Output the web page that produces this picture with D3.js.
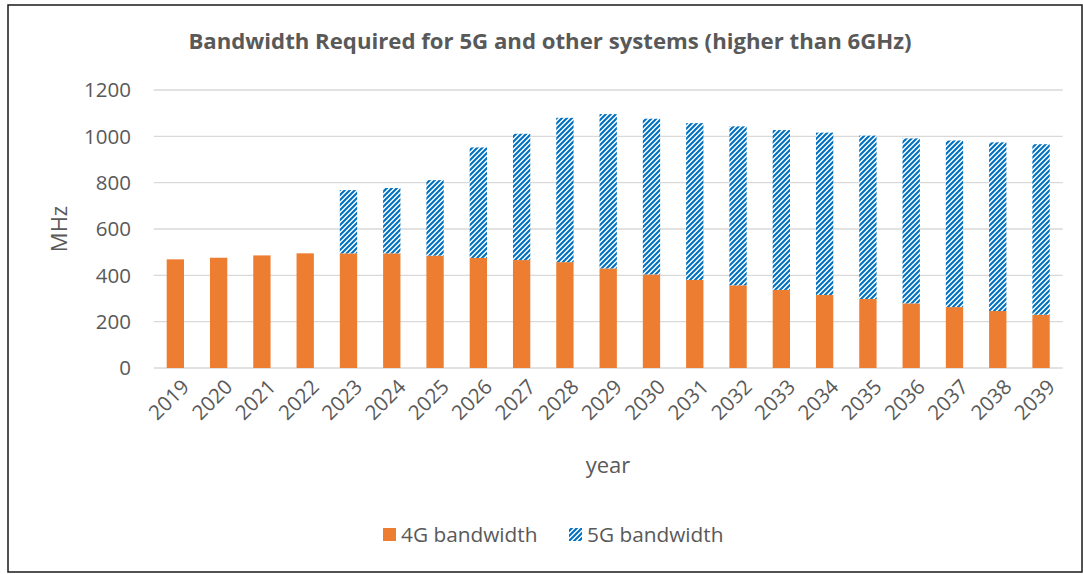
<!DOCTYPE html>
<html>
<head>
<meta charset="utf-8">
<script src="https://cdn.jsdelivr.net/npm/d3@7"></script>
<style>
  body { margin: 0; background: #fff; }
  svg text { font-family: "Open Sans", "Noto Sans", sans-serif; fill: #595959; }
</style>
</head>
<body>
<div id="chart"></div>
<script>
// data
let years = ['2019','2020','2021','2022','2023','2024','2025','2026','2027','2028','2029',
  '2030','2031','2032','2033','2034','2035','2036','2037','2038','2039'];
let bw4g = [469, 476, 486, 495, 495, 495, 485, 475, 466, 457, 430,
  404, 380, 357, 337, 315, 298, 279, 263, 246, 230];
let bw5g = [0, 0, 0, 0, 273, 282, 326, 477, 545, 623, 666,
  672, 677, 686, 690, 701, 705, 712, 719, 728, 736];
let yTicks = [0, 200, 400, 600, 800, 1000, 1200];
let seriesNames = ['4G bandwidth', '5G bandwidth'];

let width = 1083,
  height = 574;

let svg = d3.select('#chart')
  .append('svg')
  .attr('width', width)
  .attr('height', height);

// hatch pattern for the 5G series (wide upward diagonal)
let defs = svg.append('defs');
let pat = defs.append('pattern')
  .attr('id', 'hatch')
  .attr('patternUnits', 'userSpaceOnUse')
  .attr('width', 5)
  .attr('height', 5);
pat.append('rect').attr('width', 5).attr('height', 5).attr('fill', '#fff');
pat.append('path')
  .attr('d', 'M-1,1 L1,-1 M0,5 L5,0 M4,6 L6,4')
  .attr('stroke', '#0070C0')
  .attr('stroke-width', 2.1);

// outer frame
svg.append('rect')
  .attr('x', 8).attr('y', 5)
  .attr('width', 1074).attr('height', 567)
  .attr('fill', 'none')
  .attr('stroke', '#1a1a1a')
  .attr('stroke-width', 1.5);

let plotLeft = 153.7, plotRight = 1062.7, plotTop = 90, plotBottom = 368;

let x = d3.scaleBand().domain(years).range([plotLeft, plotRight]).paddingInner(0.6).paddingOuter(0.3);
let y = d3.scaleLinear().domain([0, 1200]).range([plotBottom, plotTop]);

// gridlines
svg.append('g')
  .selectAll('line')
  .data(yTicks)
  .enter()
  .append('line')
  .attr('x1', plotLeft)
  .attr('x2', plotRight)
  .attr('y1', d => y(d))
  .attr('y2', d => y(d))
  .attr('stroke', '#d9d9d9')
  .attr('stroke-width', 1.4);

// y tick labels
svg.append('g')
  .selectAll('text')
  .data(yTicks)
  .enter()
  .append('text')
  .attr('x', 131)
  .attr('y', d => y(d))
  .attr('dy', '0.36em')
  .attr('text-anchor', 'end')
  .style('font-size', '20.5px')
  .text(d => d);

// stacked bars
let stack = years.map((yr, i) => ({ year: yr, a: bw4g[i], b: bw5g[i] }));

svg.append('g')
  .selectAll('rect')
  .data(stack)
  .enter()
  .append('rect')
  .attr('x', d => x(d.year))
  .attr('width', x.bandwidth())
  .attr('y', d => y(d.a))
  .attr('height', d => y(0) - y(d.a))
  .attr('fill', '#ED7D31');

svg.append('g')
  .selectAll('rect')
  .data(stack.filter(d => d.b > 0))
  .enter()
  .append('rect')
  .attr('x', d => x(d.year))
  .attr('width', x.bandwidth())
  .attr('y', d => y(d.a + d.b))
  .attr('height', d => y(d.a) - y(d.a + d.b))
  .attr('fill', 'url(#hatch)');

// x tick labels, rotated
svg.append('g')
  .selectAll('text')
  .data(years)
  .enter()
  .append('text')
  .attr('transform', d => 'translate(' + (x(d) + x.bandwidth() / 2 + 5) + ',' + 378 + ') rotate(-45)')
  .attr('text-anchor', 'end')
  .attr('dy', '0.7em')
  .style('font-size', '20.5px')
  .text(d => d);

// title
svg.append('text')
  .attr('x', 550)
  .attr('y', 49)
  .attr('text-anchor', 'middle')
  .style('font-size', '22.2px')
  .style('font-weight', 'bold')
  .text('Bandwidth Required for 5G and other systems (higher than 6GHz)');

// axis titles
svg.append('text')
  .attr('transform', 'translate(67,229) rotate(-90)')
  .attr('text-anchor', 'middle')
  .style('font-size', '22px')
  .text('MHz');

svg.append('text')
  .attr('x', 608)
  .attr('y', 473)
  .attr('text-anchor', 'middle')
  .style('font-size', '22px')
  .text('year');

// legend
let legend = svg.append('g');
let legendX = [383, 569];
let legendFill = ['#ED7D31', 'url(#hatch)'];

legend.selectAll('rect')
  .data(seriesNames)
  .enter()
  .append('rect')
  .attr('x', (d, i) => legendX[i])
  .attr('y', 528)
  .attr('width', 13)
  .attr('height', 13)
  .attr('fill', (d, i) => legendFill[i]);

legend.selectAll('text')
  .data(seriesNames)
  .enter()
  .append('text')
  .attr('x', (d, i) => legendX[i] + 18)
  .attr('y', 542)
  .style('font-size', '20.8px')
  .text(d => d);
</script>
</body>
</html>
